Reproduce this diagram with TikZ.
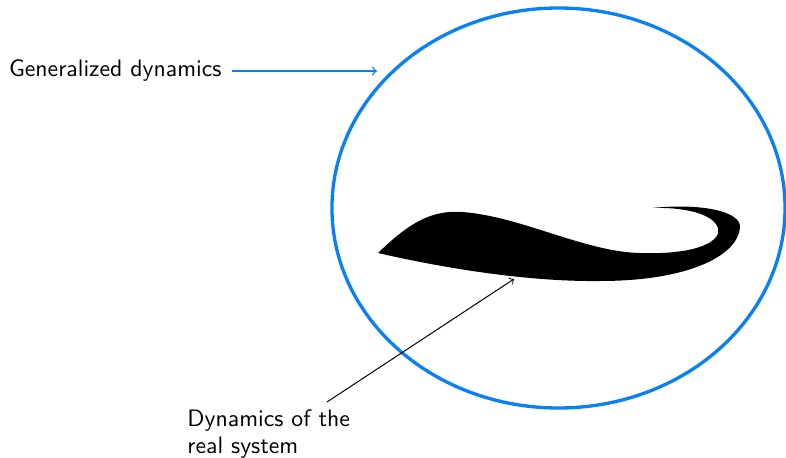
\documentclass[tikz,border=0pt]{standalone}
\usetikzlibrary{shapes.geometric}
\definecolor{gdblue}{HTML}{0A80F5}
\renewcommand{\familydefault}{\sfdefault}

\begin{document}
\begin{tikzpicture}[x=0.45pt, y=-0.45pt,
    region/.style={draw=gdblue, line width=1.5pt, ellipse,
                   minimum width=203.9pt, minimum height=180pt, inner sep=0pt},
    lbl/.style={font=\fontsize{10.7}{12.2}\selectfont, inner sep=0pt},
    garr/.style={->, gdblue, line width=0.6pt},
    arr/.style={->, black, line width=0.45pt},
]
\useasboundingbox (0,0) rectangle (786,458);

% Generalized dynamics (outer region)
\node[region] (gd) at (558.5,208) {};
\node[lbl, anchor=east] (gen) at (222,71) {Generalized dynamics};
\coordinate (genpt) at (377,71);
\draw[garr, shorten <=4.5pt] (gen) -- (genpt);

% Real system dynamics (blob)
\fill[black] (378,253) .. controls (410,222) and (432,210) .. (462,212)
    .. controls (520,216) and (585,252) .. (640,253)
    .. controls (700,255) and (722,240) .. (718,228)
    .. controls (713,213) and (682,207) .. (652,208)
    .. controls (700,203) and (742,211) .. (740,228)
    .. controls (737,256) and (688,281) .. (600,281)
    .. controls (520,282) and (430,265) .. (378,253) -- cycle;

\node[lbl, anchor=north west, align=left] (sys) at (187,409)
    {Dynamics of the\\real system};
\coordinate (systail) at (327,402);
\coordinate (syspt) at (514,279);
\draw[arr] (systail) -- (syspt);

\end{tikzpicture}
\end{document}
